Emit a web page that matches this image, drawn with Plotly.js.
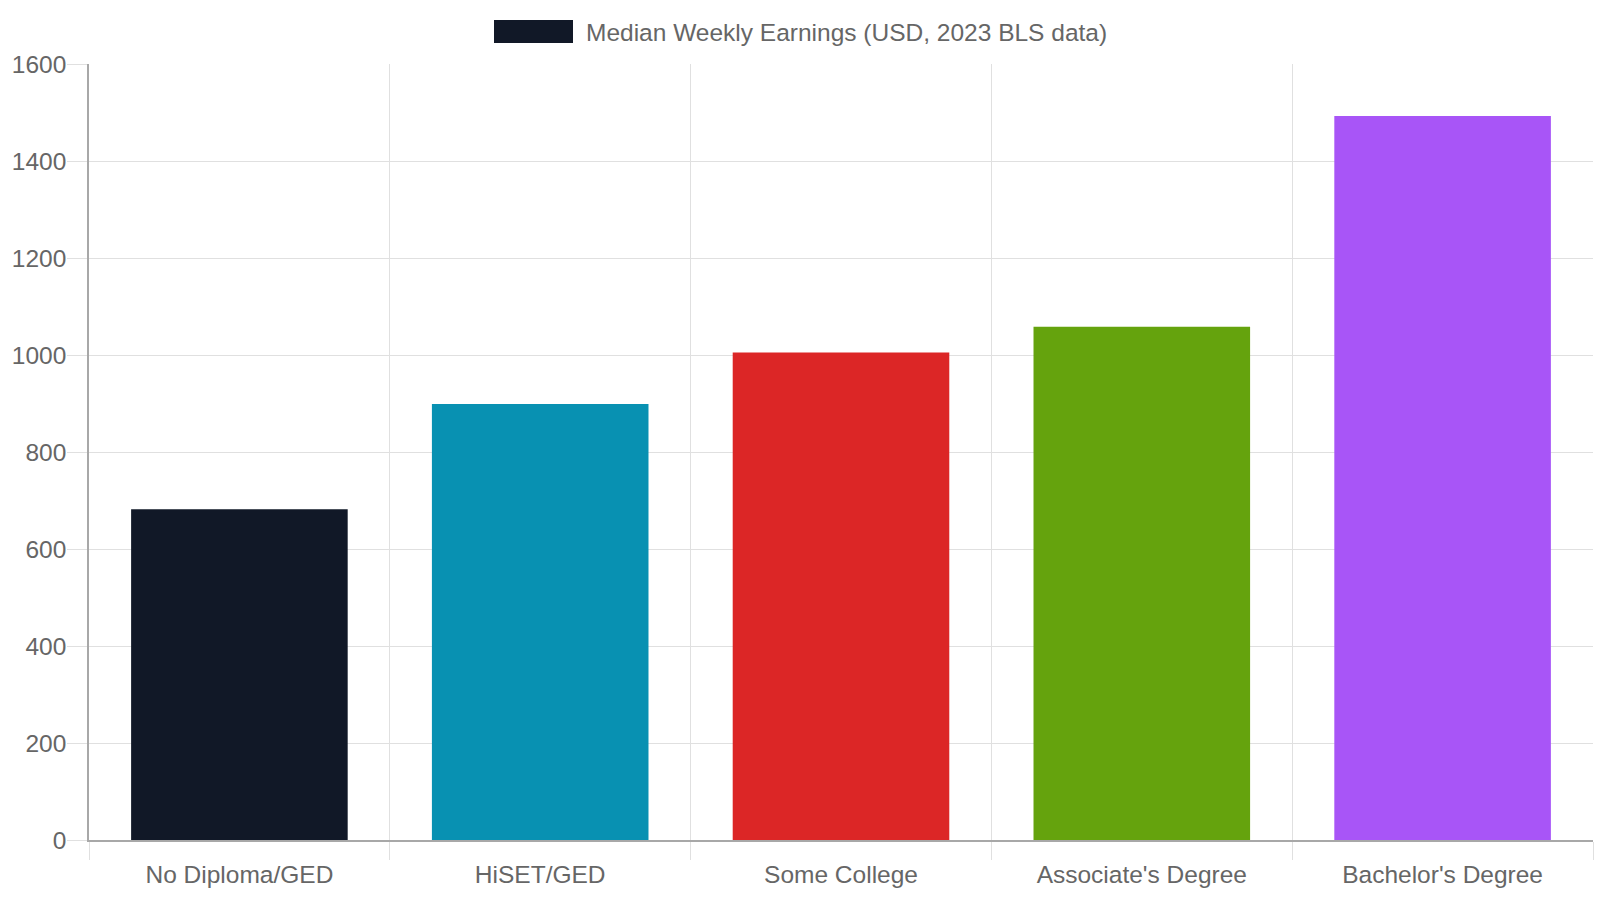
<!DOCTYPE html>
<html>
<head>
<meta charset="utf-8">
<script src="https://cdn.plot.ly/plotly-3.0.1.min.js"></script>
<style>
  html, body { margin: 0; padding: 0; background: #ffffff; }
  #chart { width: 1600px; height: 900px; }
</style>
</head>
<body>
<div id="chart"></div>
<script>
// Education level categories and median weekly earnings
const categories = ["No Diploma/GED", "HiSET/GED", "Some College", "Associate's Degree", "Bachelor's Degree"];
const earnings = [682, 899, 1005, 1058, 1493];
const barColors = ["#111827", "#0891b2", "#dc2626", "#65a30d", "#a855f7"];
const seriesName = "Median Weekly Earnings (USD, 2023 BLS data)";
const yTicks = [0, 200, 400, 600, 800, 1000, 1200, 1400, 1600];

const fontFamily = "'Liberation Sans', Arial, Helvetica, sans-serif";
const fontSize = 24.5;
const textColor = "#666666";
const gridColor = "#e0e0e0";
const axisColor = "#a8a8a8";

const trace = {
  type: "bar",
  x: categories,
  y: earnings,
  name: seriesName,
  marker: { color: barColors, line: { width: 0 } },
  hoverinfo: "x+y",
  showlegend: false
};

const layout = {
  width: 1600,
  height: 900,
  autosize: false,
  paper_bgcolor: "#ffffff",
  plot_bgcolor: "#ffffff",
  margin: { l: 89, r: 7, t: 64, b: 60 },
  bargap: 0.28,
  font: { family: fontFamily, size: fontSize, color: textColor },
  xaxis: {
    type: "category",
    tickson: "boundaries",
    ticks: "outside",
    ticklen: 18,
    tickcolor: gridColor,
    tickwidth: 1,
    ticklabelstandoff: 12,
    showgrid: true,
    gridcolor: gridColor,
    gridwidth: 1,
    showline: true,
    linecolor: axisColor,
    linewidth: 1.5,
    tickfont: { family: fontFamily, size: fontSize, color: textColor },
    fixedrange: true
  },
  yaxis: {
    range: [0, 1600],
    tickvals: yTicks,
    ticktext: yTicks.map(String),
    ticks: "outside",
    ticklen: 20,
    tickcolor: gridColor,
    tickwidth: 1,
    ticklabelstandoff: -4,
    showgrid: true,
    gridcolor: gridColor,
    gridwidth: 1,
    zeroline: false,
    showline: true,
    linecolor: axisColor,
    linewidth: 1.5,
    tickfont: { family: fontFamily, size: fontSize, color: textColor },
    fixedrange: true
  },
  // Legend drawn as a swatch plus label above the plot
  shapes: [{
    type: "rect",
    xref: "paper", yref: "paper",
    xsizemode: "pixel", ysizemode: "pixel",
    xanchor: 0.5, yanchor: 1,
    x0: -347, x1: -268,
    y0: 21, y1: 44,
    fillcolor: barColors[0],
    line: { width: 0 }
  }],
  annotations: [{
    xref: "paper", yref: "paper",
    x: 0.5, y: 1,
    xshift: -257, yshift: 32,
    xanchor: "left", yanchor: "middle",
    showarrow: false,
    text: seriesName,
    font: { family: fontFamily, size: fontSize, color: textColor }
  }]
};

Plotly.newPlot("chart", [trace], layout, { displayModeBar: false });
</script>
</body>
</html>
